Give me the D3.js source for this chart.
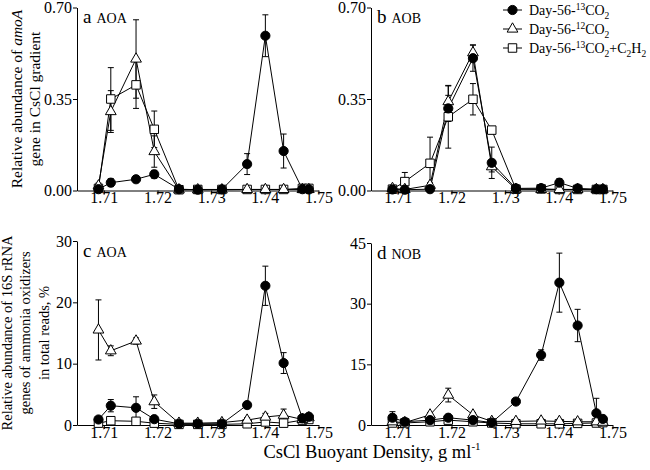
<!DOCTYPE html>
<html><head><meta charset="utf-8">
<script src="https://cdn.jsdelivr.net/npm/d3@7"></script>
<style>
body{margin:0;background:#fff;}
svg{display:block;}
text{font-family:"Liberation Serif","Times New Roman",serif;fill:#000;}
</style>
</head><body>
<svg id="chart" width="650" height="470"></svg>
<script>
// ---------- DATA ----------
const fractions = [1.7090, 1.7113, 1.7160, 1.7194, 1.7240, 1.7275, 1.7320, 1.7367, 1.7401, 1.7435, 1.7470, 1.7482];
const seriesNames = ["Day-56-13CO2", "Day-56-12CO2", "Day-56-13CO2+C2H2"];
const xTickValues = [1.71, 1.72, 1.73, 1.74, 1.75];
const yTicksAmoA = [0, 0.35, 0.70];
const yTicksAOA16S = [0, 10, 20, 30];
const yTicksNOB16S = [0, 15, 30, 45];

// (a) AOA amoA
const aAOA_13 = [0.005, 0.030, 0.043, 0.062, 0.005, 0.003, 0.004, 0.101, 0.592, 0.151, 0.005, 0.004];
const aAOA_13err = [0.004, 0.015, 0.008, 0.015, 0.003, 0.003, 0.003, 0.040, 0.080, 0.065, 0.003, 0.002];
const aAOA_12 = [0.018, 0.302, 0.503, 0.149, 0.003, 0.003, 0.003, 0.004, 0.004, 0.004, 0.004, 0.004];
const aAOA_12err = [0.010, 0.080, 0.150, 0.060, 0.002, 0.002, 0.002, 0.005, 0.005, 0.005, 0.003, 0.003];
const aAOA_C2H2 = [0.008, 0.350, 0.404, 0.234, 0.003, 0.004, 0.004, 0.004, 0.004, 0.004, 0.008, 0.008];
const aAOA_C2H2err = [0.005, 0.120, 0.090, 0.070, 0.002, 0.003, 0.003, 0.003, 0.003, 0.003, 0.004, 0.004];

// (b) AOB amoA
const bAOB_13 = [0.004, 0.003, 0.005, 0.314, 0.506, 0.106, 0.008, 0.009, 0.030, 0.008, 0.005, 0.005];
const bAOB_13err = [0.003, 0.003, 0.003, 0.050, 0.050, 0.060, 0.004, 0.004, 0.015, 0.005, 0.003, 0.003];
const bAOB_12 = [0.008, 0.004, 0.020, 0.340, 0.527, 0.091, 0.005, 0.004, 0.004, 0.004, 0.004, 0.004];
const bAOB_12err = [0.005, 0.003, 0.010, 0.060, 0.030, 0.020, 0.003, 0.003, 0.003, 0.003, 0.003, 0.003];
const bAOB_C2H2 = [0.005, 0.034, 0.104, 0.282, 0.349, 0.231, 0.005, 0.006, 0.004, 0.004, 0.004, 0.004];
const bAOB_C2H2err = [0.003, 0.035, 0.100, 0.120, 0.060, 0.010, 0.003, 0.003, 0.003, 0.003, 0.003, 0.003];

// (c) AOA 16S rRNA, % of total reads
const cAOA_13 = [0.9, 3.15, 2.8, 0.95, 0.2, 0.2, 0.2, 3.25, 22.7, 10.1, 1.1, 1.35];
const cAOA_13err = [0.3, 1.0, 1.8, 0.4, 0.1, 0.1, 0.1, 0.3, 3.2, 1.7, 0.6, 0.4];
const cAOA_12 = [15.5, 12.1, 13.7, 3.8, 0.3, 0.3, 0.4, 0.8, 1.3, 1.6, 0.9, 1.2];
const cAOA_12err = [4.9, 0.8, 0.5, 1.1, 0.2, 0.2, 0.2, 0.4, 0.6, 1.0, 0.4, 0.3];
const cAOA_C2H2 = [0.3, 0.7, 0.6, 0.3, 0.1, 0.1, 0.1, 0.2, 0.5, 0.3, 0.8, 0.9];
const cAOA_C2H2err = [0.1, 0.2, 0.2, 0.1, 0.05, 0.05, 0.05, 0.1, 0.2, 0.1, 0.2, 0.2];

// (d) NOB 16S rRNA, % of total reads
const dNOB_13 = [1.8, 0.8, 1.2, 1.8, 1.2, 0.6, 5.8, 17.3, 35.2, 24.6, 2.9, 1.5];
const dNOB_13err = [1.5, 0.3, 0.5, 0.5, 0.4, 0.3, 0.5, 1.3, 7.3, 4.0, 3.7, 0.5];
const dNOB_12 = [0.8, 0.6, 2.5, 7.4, 2.5, 0.9, 0.9, 1.0, 0.9, 0.8, 0.8, 0.7];
const dNOB_12err = [0.5, 0.3, 0.6, 1.7, 0.6, 0.3, 0.5, 0.5, 0.5, 0.5, 0.5, 0.5];
const dNOB_C2H2 = [0.5, 0.5, 0.8, 1.2, 0.8, 0.5, 0.3, 0.3, 0.3, 0.4, 0.5, 0.6];
const dNOB_C2H2err = [0.3, 0.2, 0.3, 0.3, 0.3, 0.2, 0.2, 0.2, 0.2, 0.2, 0.3, 0.3];

// ---------- LAYOUT ----------
const svg = d3.select("#chart");
const FONT = '"Liberation Serif","Times New Roman",serif';
const shapes = ["circle", "triangle", "square"];

const panels = [
  {letter: "a", name: "AOA", xr: [77, 318.5], yr: [190.5, 7.5], yMax: 0.70, yTicks: yTicksAmoA, fmt: d3.format(".2f"),
   vals: [aAOA_13, aAOA_12, aAOA_C2H2], errs: [aAOA_13err, aAOA_12err, aAOA_C2H2err]},
  {letter: "b", name: "AOB", xr: [371, 612.5], yr: [190.5, 7.5], yMax: 0.70, yTicks: yTicksAmoA, fmt: d3.format(".2f"),
   vals: [bAOB_13, bAOB_12, bAOB_C2H2], errs: [bAOB_13err, bAOB_12err, bAOB_C2H2err]},
  {letter: "c", name: "AOA", xr: [77, 318.5], yr: [425, 241], yMax: 30, yTicks: yTicksAOA16S, fmt: d3.format("d"),
   vals: [cAOA_13, cAOA_12, cAOA_C2H2], errs: [cAOA_13err, cAOA_12err, cAOA_C2H2err]},
  {letter: "d", name: "NOB", xr: [371, 612.5], yr: [425, 243], yMax: 45, yTicks: yTicksNOB16S, fmt: d3.format("d"),
   vals: [dNOB_13, dNOB_12, dNOB_C2H2], errs: [dNOB_13err, dNOB_12err, dNOB_C2H2err]}
];

function drawMarker(g, shape, x, y) {
  if (shape === "circle") {
    g.append("circle").attr("cx", x).attr("cy", y).attr("r", 4.6)
      .attr("fill", "#000").attr("stroke", "#000").attr("stroke-width", 1);
  } else if (shape === "triangle") {
    g.append("path").attr("transform", `translate(${x},${y})`)
      .attr("d", d3.symbol(d3.symbolTriangle, 50)())
      .attr("fill", "#fff").attr("stroke", "#000").attr("stroke-width", 1);
  } else {
    g.append("path").attr("transform", `translate(${x},${y})`)
      .attr("d", d3.symbol(d3.symbolSquare, 72)())
      .attr("fill", "#fff").attr("stroke", "#000").attr("stroke-width", 1);
  }
}

panels.forEach(p => {
  const x = d3.scaleLinear().domain([1.705, 1.75]).range(p.xr);
  const y = d3.scaleLinear().domain([0, p.yMax]).range(p.yr);
  const g = svg.append("g");

  // axes
  const xAxis = d3.axisBottom(x).tickValues(xTickValues).tickFormat(d3.format(".2f")).tickSize(4).tickSizeOuter(0);
  const gx = g.append("g").attr("transform", `translate(0,${p.yr[0]})`).call(xAxis);
  gx.selectAll("text").attr("y", 1.2).attr("font-size", 16).attr("font-family", FONT);
  const yAxis = d3.axisLeft(y).tickValues(p.yTicks).tickFormat(p.fmt).tickSize(4).tickSizeOuter(0);
  const gy = g.append("g").attr("transform", `translate(${p.xr[0]},0)`).call(yAxis);
  gy.selectAll("text").attr("x", -5).attr("font-size", 16).attr("font-family", FONT);
  [gx, gy].forEach(a => { a.select(".domain").attr("stroke", "#000"); a.selectAll("line").attr("stroke", "#000"); });

  // lines
  const line = d3.line().x((d, i) => x(fractions[i])).y(d => y(d));
  [2, 1, 0].forEach(s => {
    g.append("path").datum(p.vals[s]).attr("d", line)
      .attr("fill", "none").attr("stroke", "#000").attr("stroke-width", 1);
  });
  // error bars
  [2, 1, 0].forEach(s => {
    p.vals[s].forEach((v, i) => {
      const e = p.errs[s][i];
      const cx = x(fractions[i]);
      const y1 = y(v + e), y0 = y(Math.max(0, v - e));
      g.append("line").attr("x1", cx).attr("x2", cx).attr("y1", y1).attr("y2", y0).attr("stroke", "#000").attr("stroke-width", 1);
      g.append("line").attr("x1", cx - 3).attr("x2", cx + 3).attr("y1", y1).attr("y2", y1).attr("stroke", "#000").attr("stroke-width", 1);
      if (v - e > 0) g.append("line").attr("x1", cx - 3).attr("x2", cx + 3).attr("y1", y0).attr("y2", y0).attr("stroke", "#000").attr("stroke-width", 1);
    });
  });
  // markers
  [2, 1, 0].forEach(s => {
    p.vals[s].forEach((v, i) => drawMarker(g, shapes[s], x(fractions[i]), y(v)));
  });

  // panel label
  const t = g.append("text").attr("x", p.xr[0] + 6).attr("y", p.yr[1] + 15.5);
  t.append("tspan").attr("font-size", 19).text(p.letter);
  t.append("tspan").attr("font-size", 14).attr("dx", 5).text(p.name);
});

// y-axis titles
const ya = svg.append("text").attr("transform", "translate(21.5,99) rotate(-90)").attr("text-anchor", "middle").attr("font-size", 15.5);
ya.append("tspan").text("Relative abundance of ");
ya.append("tspan").attr("font-style", "italic").text("amoA");
svg.append("text").attr("transform", "translate(39.5,99) rotate(-90)").attr("text-anchor", "middle").attr("font-size", 15.5)
  .text("gene in CsCl gradient");

["Relative abundance of 16S rRNA", "genes of ammonia oxidizers", "in total reads, %"].forEach((s, i) => {
  svg.append("text").attr("transform", `translate(${11.5 + i * 18.5},333) rotate(-90)`).attr("text-anchor", "middle")
    .attr("font-size", 14.5).text(s);
});

// x-axis title
const xt = svg.append("text").attr("x", 372).attr("y", 458).attr("text-anchor", "middle").attr("font-size", 18.5);
xt.append("tspan").text("CsCl Buoyant Density, g ml");
xt.append("tspan").attr("font-size", 11).attr("dy", -8).text("-1");

// legend
const legendParts = [
  [["Day-56-", 0], ["13", 1], ["CO", 0], ["2", -1]],
  [["Day-56-", 0], ["12", 1], ["CO", 0], ["2", -1]],
  [["Day-56-", 0], ["13", 1], ["CO", 0], ["2", -1], ["+C", 0], ["2", -1], ["H", 0], ["2", -1]]
];
const lg = svg.append("g");
legendParts.forEach((parts, r) => {
  const cy = 10 + r * 19;
  lg.append("line").attr("x1", 503).attr("x2", 522).attr("y1", cy).attr("y2", cy).attr("stroke", "#000").attr("stroke-width", 1);
  drawMarker(lg, shapes[r], 512.5, cy);
  const tx = lg.append("text").attr("x", 529).attr("y", cy + 5).attr("font-size", 14);
  let cur = 0;
  parts.forEach(([s, k]) => {
    const target = k === 1 ? -5 : (k === -1 ? 3.5 : 0);
    tx.append("tspan").attr("dy", target - cur).attr("font-size", k === 0 ? 14 : 9.5).text(s);
    cur = target;
  });
});
</script>
</body></html>
